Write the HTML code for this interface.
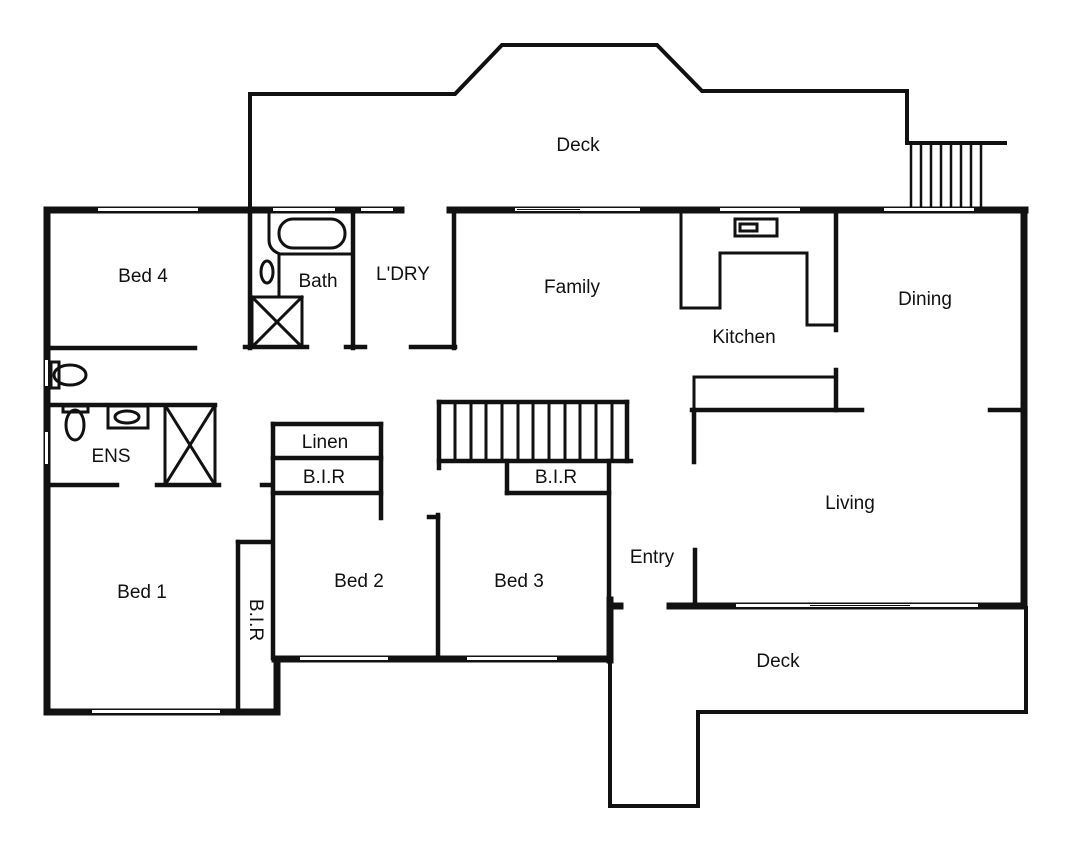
<!DOCTYPE html>
<html><head><style>html,body{margin:0;padding:0;background:#fff}svg{display:block}
text{font-family:"Liberation Sans Narrow","Liberation Sans",sans-serif;font-size:19px;fill:#111;text-anchor:middle}</style></head>
<body>
<svg width="1073" height="853" viewBox="0 0 1073 853" xmlns="http://www.w3.org/2000/svg">
<g fill="none" stroke="#111" stroke-linecap="square">
<!-- top deck -->
<polyline stroke-width="4" points="250,208 250,94 455,94 502,45 657,45 702,91 907,91 907,143 1005,143"/>
<g stroke-width="2.5">
<line x1="911" y1="145" x2="911" y2="207"/><line x1="921" y1="145" x2="921" y2="207"/><line x1="931" y1="145" x2="931" y2="207"/><line x1="941" y1="145" x2="941" y2="207"/><line x1="951" y1="145" x2="951" y2="207"/><line x1="961" y1="145" x2="961" y2="207"/><line x1="971" y1="145" x2="971" y2="207"/><line x1="981" y1="145" x2="981" y2="207"/>
</g>
<!-- outer thick walls -->
<g stroke-width="7">
<line x1="47" y1="210" x2="401" y2="210"/>
<line x1="450" y1="210" x2="1025" y2="210"/>
<line x1="47" y1="210" x2="47" y2="712"/>
<line x1="47" y1="712" x2="277" y2="712"/>
<line x1="277" y1="660" x2="277" y2="712"/>
<line x1="275" y1="659" x2="610" y2="659"/>
<line x1="1024" y1="210" x2="1024" y2="606"/>
<line x1="670" y1="606" x2="1024" y2="606"/>
<line x1="611" y1="606" x2="620" y2="606"/>
<line x1="610" y1="600" x2="610" y2="660"/>
</g>
<!-- deck lower -->
<polyline stroke-width="4" points="610,660 610,806 698,806 698,712 1026,712 1026,608"/>
<!-- interior walls -->
<g stroke-width="4.5">
<line x1="50" y1="348" x2="195" y2="348"/>
<line x1="250" y1="210" x2="250" y2="348"/>
<line x1="245" y1="347" x2="307" y2="347"/>
<line x1="353" y1="210" x2="353" y2="348"/>
<line x1="346" y1="347" x2="365" y2="347"/>
<line x1="454" y1="210" x2="454" y2="348"/>
<line x1="411" y1="347" x2="455" y2="347"/>
<line x1="50" y1="405" x2="215" y2="405"/>
<line x1="50" y1="485" x2="117" y2="485"/>
<line x1="157" y1="485" x2="219" y2="485"/>
<line x1="262" y1="485" x2="270" y2="485"/>
<line x1="238" y1="542" x2="238" y2="710"/>
<line x1="238" y1="542" x2="272" y2="542"/>
<line x1="273" y1="424" x2="273" y2="658"/>
<line x1="273" y1="424" x2="381" y2="424"/>
<line x1="273" y1="458" x2="381" y2="458"/>
<line x1="273" y1="493" x2="381" y2="493"/>
<line x1="381" y1="424" x2="381" y2="518"/>
<line x1="439" y1="402" x2="627" y2="402"/>
<line x1="439" y1="461" x2="631" y2="461"/>
<line x1="439" y1="402" x2="439" y2="468"/>
<line x1="627" y1="402" x2="627" y2="461"/>
<line x1="507" y1="461" x2="507" y2="493"/>
<line x1="507" y1="493" x2="609" y2="493"/>
<line x1="609" y1="461" x2="609" y2="600"/>
<line x1="438" y1="515" x2="438" y2="657"/>
<line x1="429" y1="517" x2="438" y2="517"/>
<line x1="836" y1="213" x2="836" y2="330"/>
<line x1="836" y1="370" x2="836" y2="410"/>
<line x1="692" y1="410" x2="862" y2="410"/>
<line x1="694" y1="410" x2="694" y2="462"/>
<line x1="990" y1="410" x2="1022" y2="410"/>
<line x1="695" y1="550" x2="695" y2="604"/>
</g>
<g stroke-width="3">
<!-- stair treads -->
<line x1="455" y1="404" x2="455" y2="459"/><line x1="471" y1="404" x2="471" y2="459"/><line x1="486" y1="404" x2="486" y2="459"/><line x1="502" y1="404" x2="502" y2="459"/><line x1="518" y1="404" x2="518" y2="459"/><line x1="533" y1="404" x2="533" y2="459"/><line x1="549" y1="404" x2="549" y2="459"/><line x1="565" y1="404" x2="565" y2="459"/><line x1="580" y1="404" x2="580" y2="459"/><line x1="596" y1="404" x2="596" y2="459"/><line x1="612" y1="404" x2="612" y2="459"/>
<!-- kitchen -->
<polyline points="681,213 681,308 720,308 720,253 807,253 807,325 834,325"/>
<rect x="735" y="219" width="42" height="17"/>
<rect x="740" y="224" width="17" height="7"/>
<polyline points="694,410 694,377 836,377"/>
<!-- bath -->
<rect x="279" y="219" width="66" height="29" rx="14"/>
<path d="M269,213 V240 Q269,250 280,254 H350"/>
<line x1="279" y1="254" x2="279" y2="297"/>
<ellipse cx="267" cy="272" rx="6" ry="11"/>
<rect x="252" y="297" width="50" height="50"/>
<line x1="252" y1="297" x2="302" y2="347"/><line x1="302" y1="297" x2="252" y2="347"/>
<!-- ens -->
<rect x="165" y="405" width="50" height="80"/>
<line x1="165" y1="405" x2="215" y2="485"/><line x1="215" y1="405" x2="165" y2="485"/>
<ellipse cx="70" cy="375" rx="16" ry="10"/>
<rect x="51" y="362" width="8" height="26"/>
<ellipse cx="75" cy="425" rx="9" ry="15"/>
<rect x="63" y="406" width="25" height="6"/>
<rect x="108" y="406" width="40" height="22"/>
<ellipse cx="127" cy="417" rx="12" ry="6"/>
</g>
</g>
<!-- windows -->
<g fill="#fff" stroke="none">
<rect x="98" y="208" width="100" height="3"/>
<rect x="273" y="208" width="62" height="3"/>
<rect x="361" y="208" width="32" height="3"/>
<rect x="515" y="208" width="125" height="3"/>
<rect x="720" y="208" width="80" height="3"/>
<rect x="884" y="208" width="90" height="3"/>
<rect x="92" y="710" width="128" height="3"/>
<rect x="300" y="657" width="88" height="3"/>
<rect x="467" y="657" width="90" height="3"/>
<rect x="736" y="604" width="242" height="3"/>
<rect x="45" y="360" width="3" height="26"/>
<rect x="45" y="432" width="3" height="32"/>
</g>
<line x1="810" y1="605.5" x2="910" y2="605.5" stroke="#111" stroke-width="1"/>
<line x1="517" y1="209.5" x2="580" y2="209.5" stroke="#111" stroke-width="1"/>
<text x="578" y="151">Deck</text>
<text x="143" y="282">Bed 4</text>
<text x="318" y="287">Bath</text>
<text x="403" y="280">L'DRY</text>
<text x="572" y="293">Family</text>
<text x="744" y="343">Kitchen</text>
<text x="925" y="305">Dining</text>
<text x="111" y="462">ENS</text>
<text x="325" y="448">Linen</text>
<text x="324" y="483">B.I.R</text>
<text x="556" y="483">B.I.R</text>
<text x="850" y="509">Living</text>
<text x="652" y="563">Entry</text>
<text x="359" y="587">Bed 2</text>
<text x="519" y="587">Bed 3</text>
<text x="142" y="598">Bed 1</text>
<text x="0" y="0" transform="translate(250,620) rotate(90)">B.I.R</text>
<text x="778" y="667">Deck</text>
</svg>
</body></html>
